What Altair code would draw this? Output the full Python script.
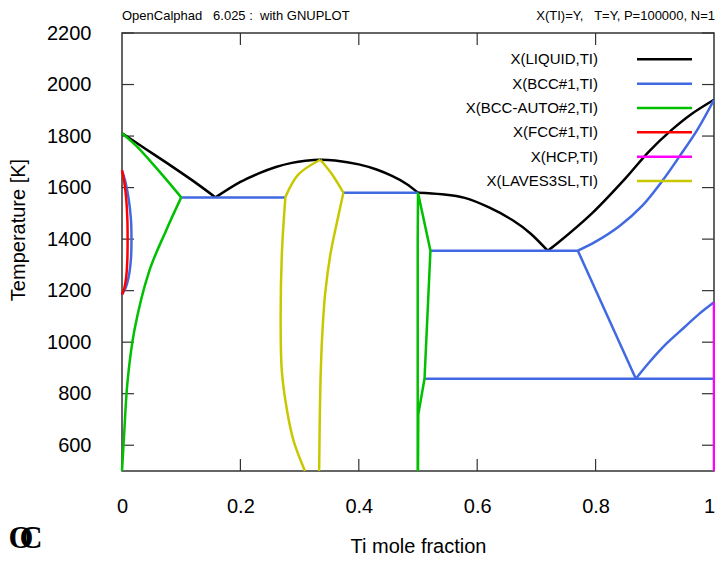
import altair as alt
import pandas as pd

# ---------------- data ----------------
x_ticks = [0, 0.2, 0.4, 0.6, 0.8, 1.0]
y_ticks = [600, 800, 1000, 1200, 1400, 1600, 1800, 2000, 2200]

phases = ["LIQUID", "BCC#1", "BCC-AUTO#2", "FCC#1", "HCP", "LAVES3SL"]
legend_labels = ["X(LIQUID,TI)", "X(BCC#1,TI)", "X(BCC-AUTO#2,TI)",
                 "X(FCC#1,TI)", "X(HCP,TI)", "X(LAVES3SL,TI)"]
colors = ["#000000", "#4169e1", "#00c000", "#ff0000", "#ff00ff", "#c8c800"]

# LIQUID
liq1_x = [0, 0.04, 0.08, 0.12, 0.158]
liq1_T = [1811, 1750, 1689, 1626, 1562]
liq2_x = [0.158, 0.2, 0.231, 0.26, 0.287, 0.31, 0.335, 0.36, 0.4, 0.43, 0.456, 0.48, 0.5]
liq2_T = [1562, 1622, 1655, 1680, 1696, 1704, 1708, 1705, 1690, 1670, 1645, 1615, 1580]
liq3_x = [0.5, 0.54, 0.579, 0.62, 0.66, 0.69, 0.719]
liq3_T = [1580, 1574, 1560, 1523, 1473, 1422, 1355]
liq4_x = [0.719, 0.736, 0.792, 0.85, 0.89, 0.928, 0.961, 1.0]
liq4_T = [1355, 1385, 1496, 1635, 1740, 1823, 1884, 1941]

# BCC#1
bcc_loop_x = [0, 0.006, 0.011, 0.015, 0.016, 0.015, 0.011, 0.006, 0]
bcc_loop_T = [1667, 1620, 1560, 1480, 1400, 1320, 1250, 1210, 1185]
bcc_tie1_x = [0.1, 0.276]
bcc_tie1_T = [1562, 1562]
bcc_tie2_x = [0.374, 0.5]
bcc_tie2_T = [1580, 1580]
bcc_tie3_x = [0.521, 0.77]
bcc_tie3_T = [1355, 1355]
bcc_up_x = [0.77, 0.80, 0.84, 0.879, 0.914, 0.942, 0.972, 1.0]
bcc_up_T = [1355, 1390, 1450, 1530, 1630, 1722, 1825, 1941]
bcc_down_x = [0.77, 0.868]
bcc_down_T = [1355, 858]
bcc_tie4_x = [0.511, 1.0]
bcc_tie4_T = [858, 858]
bcc_low_x = [0.868, 0.89, 0.92, 0.95, 0.975, 1.0]
bcc_low_T = [858, 920, 995, 1058, 1110, 1155]

# BCC-AUTO#2
g1_x = [0, 0.025, 0.05, 0.075, 0.1]
g1_T = [1811, 1760, 1697, 1631, 1562]
g2_x = [0.1, 0.074, 0.046, 0.0207, 0.0094, 0.0039, 0.001, 0]
g2_T = [1562, 1431, 1276, 1043, 849, 655, 540, 500]
g3_x = [0.4995, 0.4995, 0.5, 0.521, 0.511, 0.5005, 0.5]
g3_T = [500, 1400, 1580, 1355, 858, 720, 500]

# FCC#1
fcc_x = [0, 0.004, 0.007, 0.009, 0.0095, 0.009, 0.007, 0.004, 0]
fcc_T = [1667, 1620, 1560, 1480, 1400, 1320, 1250, 1210, 1185]

# HCP
hcp_x = [1.0, 1.0]
hcp_T = [1155, 500]

# LAVES
lav_ul_x = [0.335, 0.298, 0.276]
lav_ul_T = [1708, 1651, 1563]
lav_ll_x = [0.276, 0.270, 0.268, 0.270, 0.279, 0.290, 0.309]
lav_ll_T = [1563, 1341, 1082, 888, 732, 616, 500]
lav_ur_x = [0.335, 0.355, 0.374]
lav_ur_T = [1708, 1651, 1580]
lav_lr_x = [0.374, 0.366, 0.352, 0.343, 0.338, 0.335, 0.333]
lav_lr_T = [1580, 1496, 1341, 1185, 1017, 823, 500]

# (x, T, smooth?)
segments = {
    "LIQUID": [(liq1_x, liq1_T, True), (liq2_x, liq2_T, True),
               (liq3_x, liq3_T, True), (liq4_x, liq4_T, True)],
    "BCC#1": [(bcc_loop_x, bcc_loop_T, True), (bcc_tie1_x, bcc_tie1_T, False),
              (bcc_tie2_x, bcc_tie2_T, False), (bcc_tie3_x, bcc_tie3_T, False),
              (bcc_up_x, bcc_up_T, True), (bcc_down_x, bcc_down_T, False),
              (bcc_tie4_x, bcc_tie4_T, False), (bcc_low_x, bcc_low_T, True)],
    "BCC-AUTO#2": [(g1_x, g1_T, True), (g2_x, g2_T, True), (g3_x, g3_T, False)],
    "FCC#1": [(fcc_x, fcc_T, True)],
    "HCP": [(hcp_x, hcp_T, False)],
    "LAVES3SL": [(lav_ul_x, lav_ul_T, True), (lav_ll_x, lav_ll_T, True),
                 (lav_ur_x, lav_ur_T, True), (lav_lr_x, lav_lr_T, True)],
}

rows = []
for ph, segs in segments.items():
    for si, (xs, ts, sm) in enumerate(segs):
        for i, (xv, tv) in enumerate(zip(xs, ts)):
            rows.append({"phase": ph, "seg": f"{ph}-{si}", "i": i, "x": xv, "T": tv,
                         "smooth": sm})
df = pd.DataFrame(rows)

# ---------------- layout / style ----------------
W, H = 592, 438
FONT = "Liberation Sans"
TICK = 12

xscale = alt.Scale(domain=[0, 1], nice=False, zero=False)
yscale = alt.Scale(domain=[500, 2200], nice=False, zero=False)

xaxis = alt.Axis(values=x_ticks, format=".1~f", ticks=False, domain=False, grid=False,
                 labelFont=FONT, labelFontSize=20, labelColor="black", labelPadding=25,
                 labelFlush=False, labelOverlap=False,
                 labelOffset={"condition": {"test": "datum.value >= 1", "value": -5}, "value": 0},
                 title="Ti mole fraction", titleFont=FONT, titleFontSize=20,
                 titleFontWeight="normal", titleColor="black",
                 titleX=W / 2, titleY=75, titleBaseline="middle", titleAlign="center")
yaxis = alt.Axis(values=y_ticks, format="d", ticks=False, domain=False, grid=False,
                 labelFont=FONT, labelFontSize=20, labelColor="black", labelPadding=31,
                 labelFlush=False, labelOverlap=False,
                 title="Temperature [K]", titleFont=FONT, titleFontSize=20,
                 titleFontWeight="normal", titleColor="black",
                 titleX=-104, titleY=196.5, titleAngle=270,
                 titleBaseline="middle", titleAlign="center")

X = alt.X("x:Q", scale=xscale, axis=xaxis)
Y = alt.Y("T:Q", scale=yscale, axis=yaxis)

layers = []

# inward ticks (gnuplot style, mirrored)
ty = pd.DataFrame({"T": y_ticks})
tx = pd.DataFrame({"x": [v for v in x_ticks if 0 < v < 1]})
tick_style = dict(color="#333333", strokeWidth=1.2)
layers.append(alt.Chart(ty).mark_rule(**tick_style).encode(y=Y, x=alt.value(0), x2=alt.value(TICK)))
layers.append(alt.Chart(ty).mark_rule(**tick_style).encode(y=Y, x=alt.value(W - TICK), x2=alt.value(W)))
layers.append(alt.Chart(tx).mark_rule(**tick_style).encode(x=X, y=alt.value(H - TICK), y2=alt.value(H)))
layers.append(alt.Chart(tx).mark_rule(**tick_style).encode(x=X, y=alt.value(0), y2=alt.value(TICK)))

# phase curves
for ph, col in zip(phases, colors):
    sub = df[df["phase"] == ph]
    for sm, interp in ((False, "linear"), (True, "catmull-rom")):
        part = sub[sub["smooth"] == sm]
        if len(part) == 0:
            continue
        layers.append(
            alt.Chart(part).mark_line(color=col, strokeWidth=2.5, clip=False,
                                      interpolate=interp).encode(
                x=X, y=Y, detail="seg:N", order="i:Q")
        )

# legend (gnuplot style: label left, sample right)
one = pd.DataFrame({"a": [0]})
for k, (lab, col) in enumerate(zip(legend_labels, colors)):
    yy = 26.3 + 24.35 * k
    layers.append(alt.Chart(one).mark_text(text=lab, align="right", baseline="middle",
                                           font=FONT, fontSize=15, color="black")
                  .encode(x=alt.value(476), y=alt.value(yy)))
    layers.append(alt.Chart(one).mark_rule(color=col, strokeWidth=2.5)
                  .encode(x=alt.value(515), x2=alt.value(570), y=alt.value(yy)))

# header texts
layers.append(alt.Chart(one).mark_text(
    text="OpenCalphad\u00a0\u00a0\u00a06.025\u00a0:\u00a0\u00a0with GNUPLOT",
    align="left", baseline="middle", font=FONT, fontSize=13, color="black")
    .encode(x=alt.value(0), y=alt.value(-17.5)))
layers.append(alt.Chart(one).mark_text(
    text="X(TI)=Y,\u00a0\u00a0\u00a0T=Y, P=100000, N=1",
    align="right", baseline="middle", font=FONT, fontSize=13, color="black")
    .encode(x=alt.value(W + 1), y=alt.value(-17.5)))

# OC logo
logo = dict(align="left", baseline="alphabetic", font="Liberation Serif",
            fontWeight="bold", fontSize=32, color="black")
layers.append(alt.Chart(one).mark_text(text="O", **logo)
              .encode(x=alt.value(-113.5), y=alt.value(515)))
layers.append(alt.Chart(one).mark_text(text="C", **logo)
              .encode(x=alt.value(-102.5), y=alt.value(515)))

chart = alt.layer(*layers).properties(
    width=W, height=H,
    padding={"left": 114, "top": 25, "right": 1, "bottom": 84},
    autosize=alt.AutoSizeParams(type="none"),
).configure_view(stroke="#333333", strokeWidth=1.5)

chart.save("out.html", embed_options={"renderer": "svg", "actions": False})
